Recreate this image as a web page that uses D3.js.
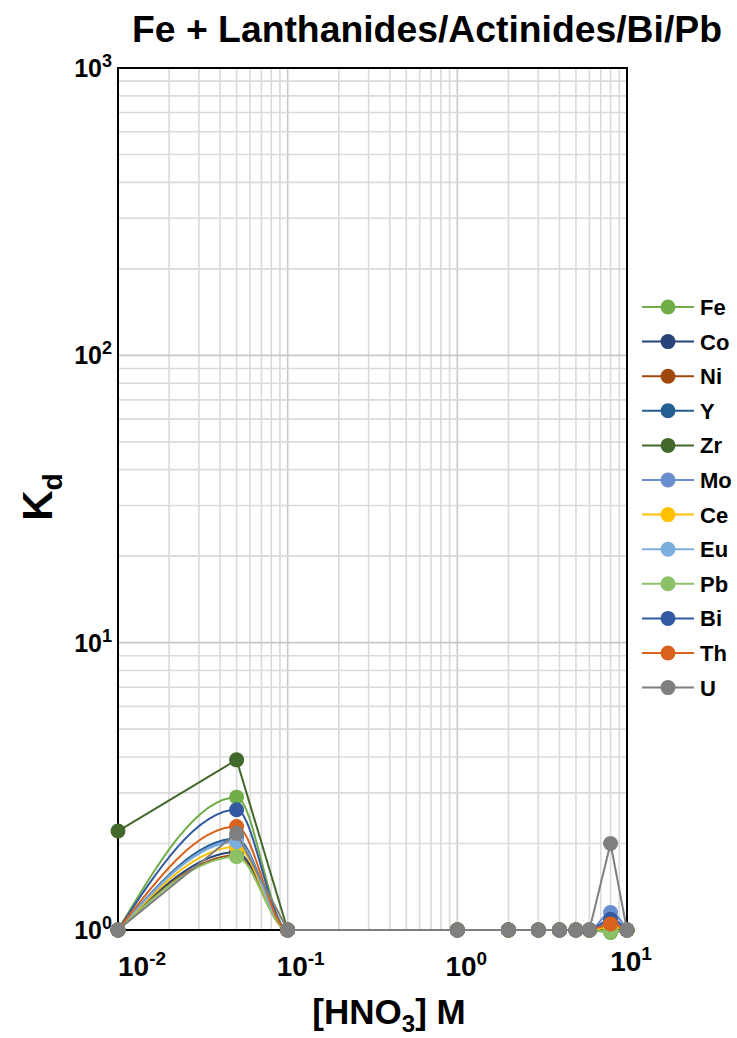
<!DOCTYPE html>
<html>
<head>
<meta charset="utf-8">
<script src="https://cdn.jsdelivr.net/npm/d3@7"></script>
<style>
  body { margin: 0; background: #fff; }
  text { font-family: "Liberation Sans", Arial, sans-serif; font-weight: bold; }
</style>
</head>
<body>
<svg id="chart" width="737" height="1038"></svg>
<script>
// HNO3 concentrations (M)
const hno3 = [0.01, 0.05, 0.1, 1, 2, 3, 4, 5, 6, 8, 10];
const elements = ['Fe', 'Co', 'Ni', 'Y', 'Zr', 'Mo', 'Ce', 'Eu', 'Pb', 'Bi', 'Th', 'U'];
const colors = ['#70AD47', '#264478', '#9E480E', '#255E91', '#43682B', '#698ED0',
                '#FFC000', '#7CAFDD', '#8CC168', '#335AA1', '#D9631C', '#7F7F7F'];
// Kd values, one list per element
const kdFe = [1, 2.90, 1, 1, 1, 1, 1, 1, 1, 0.98, 1];
const kdCo = [1, 1.87, 1, 1, 1, 1, 1, 1, 1, 1.06, 1];
const kdNi = [1, 1.82, 1, 1, 1, 1, 1, 1, 1, 1.04, 1];
const kdY  = [1, 2.08, 1, 1, 1, 1, 1, 1, 1, 1.07, 1];
const kdZr = [2.21, 3.91, 1, 1, 1, 1, 1, 1, 1, 1.03, 1];
const kdMo = [1, 2.05, 1, 1, 1, 1, 1, 1, 1, 1.15, 1];
const kdCe = [1, 1.95, 1, 1, 1, 1, 1, 1, 1, 1.02, 1];
const kdEu = [1, 2.03, 1, 1, 1, 1, 1, 1, 1, 1.08, 1];
const kdPb = [1, 1.80, 1, 1, 1, 1, 1, 1, 1, 0.99, 1];
const kdBi = [1, 2.62, 1, 1, 1, 1, 1, 1, 1, 1.09, 1];
const kdTh = [1, 2.29, 1, 1, 1, 1, 1, 1, 1, 1.05, 1];
const kdU  = [1, 2.17, 1, 1, 1, 1, 1, 1, 1, 2.00, 1];
const kdAll = [kdFe, kdCo, kdNi, kdY, kdZr, kdMo, kdCe, kdEu, kdPb, kdBi, kdTh, kdU];
const xTicks = [0.01, 0.1, 1, 10];
const yTicks = [1, 10, 100, 1000];

const svg = d3.select('#chart');
const margin = {left: 118, top: 68, right: 110, bottom: 108};
const width = +svg.attr('width') - margin.left - margin.right;
const height = +svg.attr('height') - margin.top - margin.bottom;

const xScale = d3.scaleLog().domain([0.01, 10]).range([0, width]);
const yScale = d3.scaleLog().domain([1, 1000]).range([height, 0]);

const g = svg.append('g')
  .attr('transform', `translate(${margin.left},${margin.top})`);

// minor + major grid
const minorX = xScale.ticks().filter(v => v > 0.01 && v < 10);
const minorY = yScale.ticks().filter(v => v > 1 && v < 1000);
g.selectAll('.gx').data(minorX).enter().append('line')
  .attr('x1', d => xScale(d)).attr('x2', d => xScale(d))
  .attr('y1', 0).attr('y2', height)
  .attr('stroke', d => xTicks.includes(d) ? '#c8c8c8' : '#dadada')
  .attr('stroke-width', 1.6);
g.selectAll('.gy').data(minorY).enter().append('line')
  .attr('y1', d => yScale(d)).attr('y2', d => yScale(d))
  .attr('x1', 0).attr('x2', width)
  .attr('stroke', d => yTicks.includes(d) ? '#c8c8c8' : '#dadada')
  .attr('stroke-width', 1.6);

g.append('rect')
  .attr('width', width).attr('height', height)
  .attr('fill', 'none').attr('stroke', '#000').attr('stroke-width', 2);

// tick labels as 10^n
const expOf = v => Math.round(Math.log10(v));
const xNudge = [24, 13, 9, 4];
xTicks.forEach((v, i) => {
  const t = g.append('text')
    .attr('x', xScale(v) + xNudge[i]).attr('y', height + 46 - (i === 3 ? 5 : 0))
    .attr('text-anchor', 'middle').attr('font-size', 28);
  t.append('tspan').text('10');
  t.append('tspan').attr('dy', -11).attr('font-size', 19).text(expOf(v));
});
yTicks.forEach(v => {
  const t = g.append('text')
    .attr('x', -6).attr('y', yScale(v) + 9)
    .attr('text-anchor', 'end').attr('font-size', 25);
  t.append('tspan').text('10');
  t.append('tspan').attr('dy', -10).attr('font-size', 18).text(expOf(v));
});

// lines and markers
const series = elements.map((name, i) => ({
  name, color: colors[i],
  pts: hno3.map((x, j) => ({x, y: kdAll[i][j]}))
}));
series.forEach(s => {
  const line = d3.line()
    .x(d => xScale(d.x)).y(d => yScale(d.y))
    .curve(s.name === 'Zr' || s.name === 'U' ? d3.curveLinear : d3.curveMonotoneX);
  g.append('path').datum(s.pts)
    .attr('d', line)
    .attr('fill', 'none').attr('stroke', s.color).attr('stroke-width', 2);
  g.selectAll(null).data(s.pts).enter().append('circle')
    .attr('cx', d => xScale(d.x)).attr('cy', d => yScale(d.y))
    .attr('r', 7.5).attr('fill', s.color);
});

// legend
const leg = svg.append('g').attr('transform', 'translate(642,307)');
series.forEach((s, i) => {
  const row = leg.append('g').attr('transform', `translate(0,${i * 34.6})`);
  row.append('line').attr('x1', 0).attr('x2', 52)
    .attr('stroke', s.color).attr('stroke-width', 2);
  row.append('circle').attr('cx', 26).attr('r', 7.5).attr('fill', s.color);
  row.append('text').attr('x', 58).attr('y', 8).attr('font-size', 22).text(s.name);
});

// titles
svg.append('text')
  .attr('x', 427).attr('y', 42).attr('text-anchor', 'middle')
  .attr('font-size', 36).attr('textLength', 590).attr('lengthAdjust', 'spacingAndGlyphs')
  .text('Fe + Lanthanides/Actinides/Bi/Pb');

const xl = svg.append('text')
  .attr('x', 389).attr('y', 1024).attr('text-anchor', 'middle').attr('font-size', 35);
xl.append('tspan').text('[HNO');
xl.append('tspan').attr('dy', 8).attr('font-size', 24).text('3');
xl.append('tspan').attr('dy', -8).text('] M');

const yl = svg.append('text')
  .attr('transform', 'translate(52,497) rotate(-90)')
  .attr('text-anchor', 'middle').attr('font-size', 42);
yl.append('tspan').text('K');
yl.append('tspan').attr('dy', 10).attr('font-size', 28).text('d');
</script>
</body>
</html>
